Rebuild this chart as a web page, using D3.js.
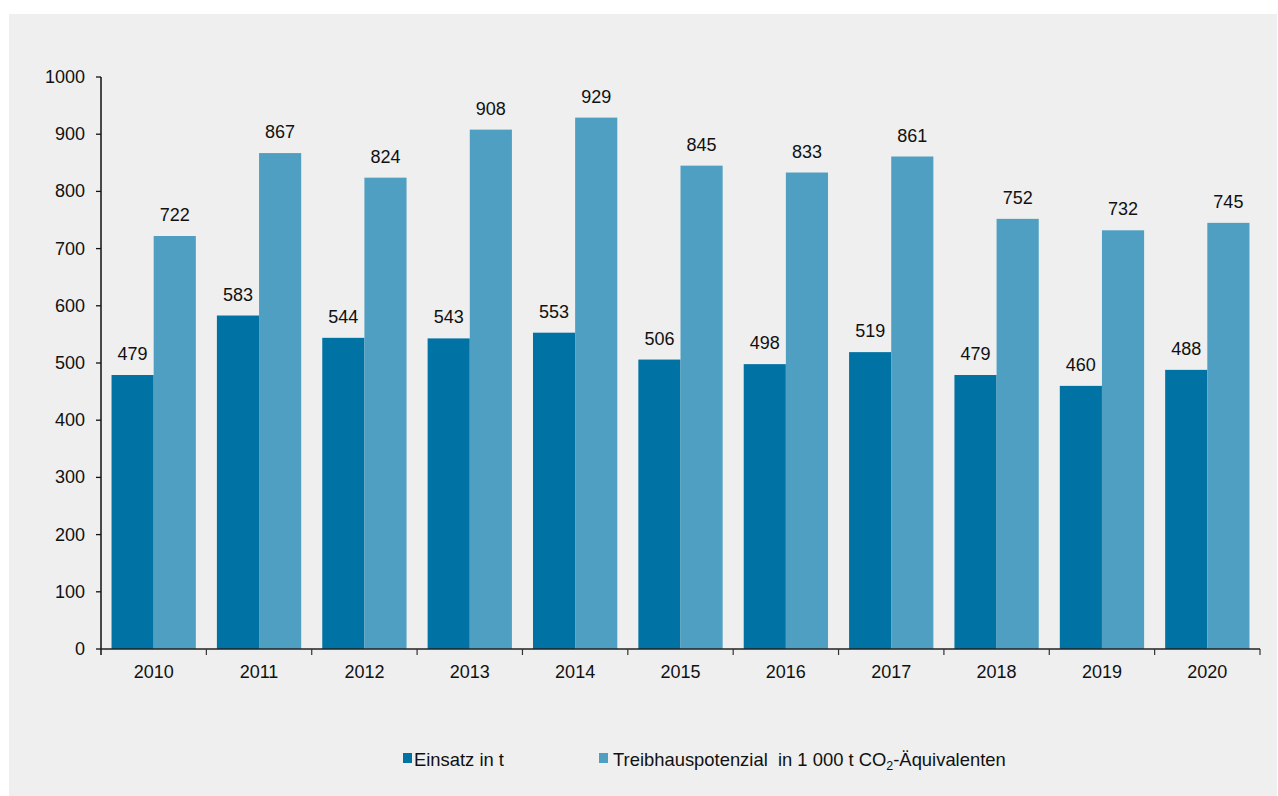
<!DOCTYPE html>
<html>
<head>
<meta charset="utf-8">
<script src="https://d3js.org/d3.v7.min.js"></script>
<style>
html,body{margin:0;padding:0;background:#fff;}
svg{display:block;font-family:"Liberation Sans",Arial,sans-serif;}
</style>
</head>
<body>
<svg id="chart" width="1278" height="796"></svg>
<script>
const years = ["2010","2011","2012","2013","2014","2015","2016","2017","2018","2019","2020"];
const einsatz = [479,583,544,543,553,506,498,519,479,460,488];
const treibhaus = [722,867,824,908,929,845,833,861,752,732,745];
const yTicks = [0,100,200,300,400,500,600,700,800,900,1000];
const seriesNames = ["Einsatz in t","Treibhauspotenzial"];
const colors = ["#0072a3","#4f9fc2"];

(function(){
const FS = 18;
const svg = d3.select("#chart");
svg.append("rect").attr("x",9).attr("y",14).attr("width",1268).attr("height",782).attr("fill","#eeefee");

const mLeft = 101, mRight = 1260, mTop = 77, mBottom = 649;
const x = d3.scaleBand().domain(years).range([mLeft,mRight]).paddingInner(0.2).paddingOuter(0.1);
const xOuter = d3.scaleBand().domain(years).range([mLeft,mRight]);
const y = d3.scaleLinear().domain([0,1000]).range([mBottom,mTop]);
const xs = d3.scaleBand().domain([0,1]).range([0,x.bandwidth()]);

const data = years.map((yr,i)=>({year:yr, vals:[einsatz[i],treibhaus[i]]}));

const g = svg.append("g");
data.forEach(d=>{
  d.vals.forEach((v,k)=>{
    g.append("rect")
      .attr("x", x(d.year)+xs(k))
      .attr("y", y(v))
      .attr("width", xs.bandwidth())
      .attr("height", y(0)-y(v))
      .attr("fill", colors[k]);
    g.append("text")
      .attr("x", x(d.year)+xs(k)+xs.bandwidth()/2)
      .attr("y", y(v)-15)
      .attr("text-anchor","middle")
      .attr("font-size",FS)
      .attr("fill","#111")
      .text(v);
  });
});

// y axis
const ya = svg.append("g");
ya.append("line").attr("x1",mLeft).attr("x2",mLeft).attr("y1",y(1000)).attr("y2",mBottom+6).attr("stroke","#111").attr("stroke-width",1.5);
yTicks.forEach(t=>{
  ya.append("line").attr("x1",mLeft-5).attr("x2",mLeft).attr("y1",y(t)).attr("y2",y(t)).attr("stroke","#111").attr("stroke-width",1.3);
  ya.append("text").attr("x",mLeft-16).attr("y",y(t)+6).attr("text-anchor","end").attr("font-size",FS).attr("fill","#111").text(t);
});

// x axis
const xa = svg.append("g");
xa.append("line").attr("x1",mLeft).attr("x2",mRight).attr("y1",mBottom).attr("y2",mBottom).attr("stroke","#222").attr("stroke-width",1.5);
years.forEach((yr,i)=>{
  const bx = xOuter(yr)+xOuter.bandwidth();
  xa.append("line").attr("x1",bx).attr("x2",bx).attr("y1",mBottom).attr("y2",mBottom+6).attr("stroke","#333").attr("stroke-width",1.2);
  xa.append("text").attr("x",xOuter(yr)+xOuter.bandwidth()/2).attr("y",mBottom+29).attr("text-anchor","middle").attr("font-size",FS).attr("fill","#111").text(yr);
});

// legend
const lg = svg.append("g").attr("font-size",18.4).attr("fill","#111");
lg.append("rect").attr("x",403).attr("y",753).attr("width",9).attr("height",10).attr("fill",colors[0]);
lg.append("text").attr("x",414).attr("y",766).text(seriesNames[0]);
lg.append("rect").attr("x",599).attr("y",753).attr("width",9).attr("height",10).attr("fill",colors[1]);
const t2 = lg.append("text").attr("x",613).attr("y",766);
t2.append("tspan").text("Treibhauspotenzial\u00a0 in 1 000 t CO");
t2.append("tspan").attr("font-size",12.5).attr("dy",4).text("2");
t2.append("tspan").attr("dy",-4).text("-Äquivalenten");
})();
</script>
</body>
</html>
